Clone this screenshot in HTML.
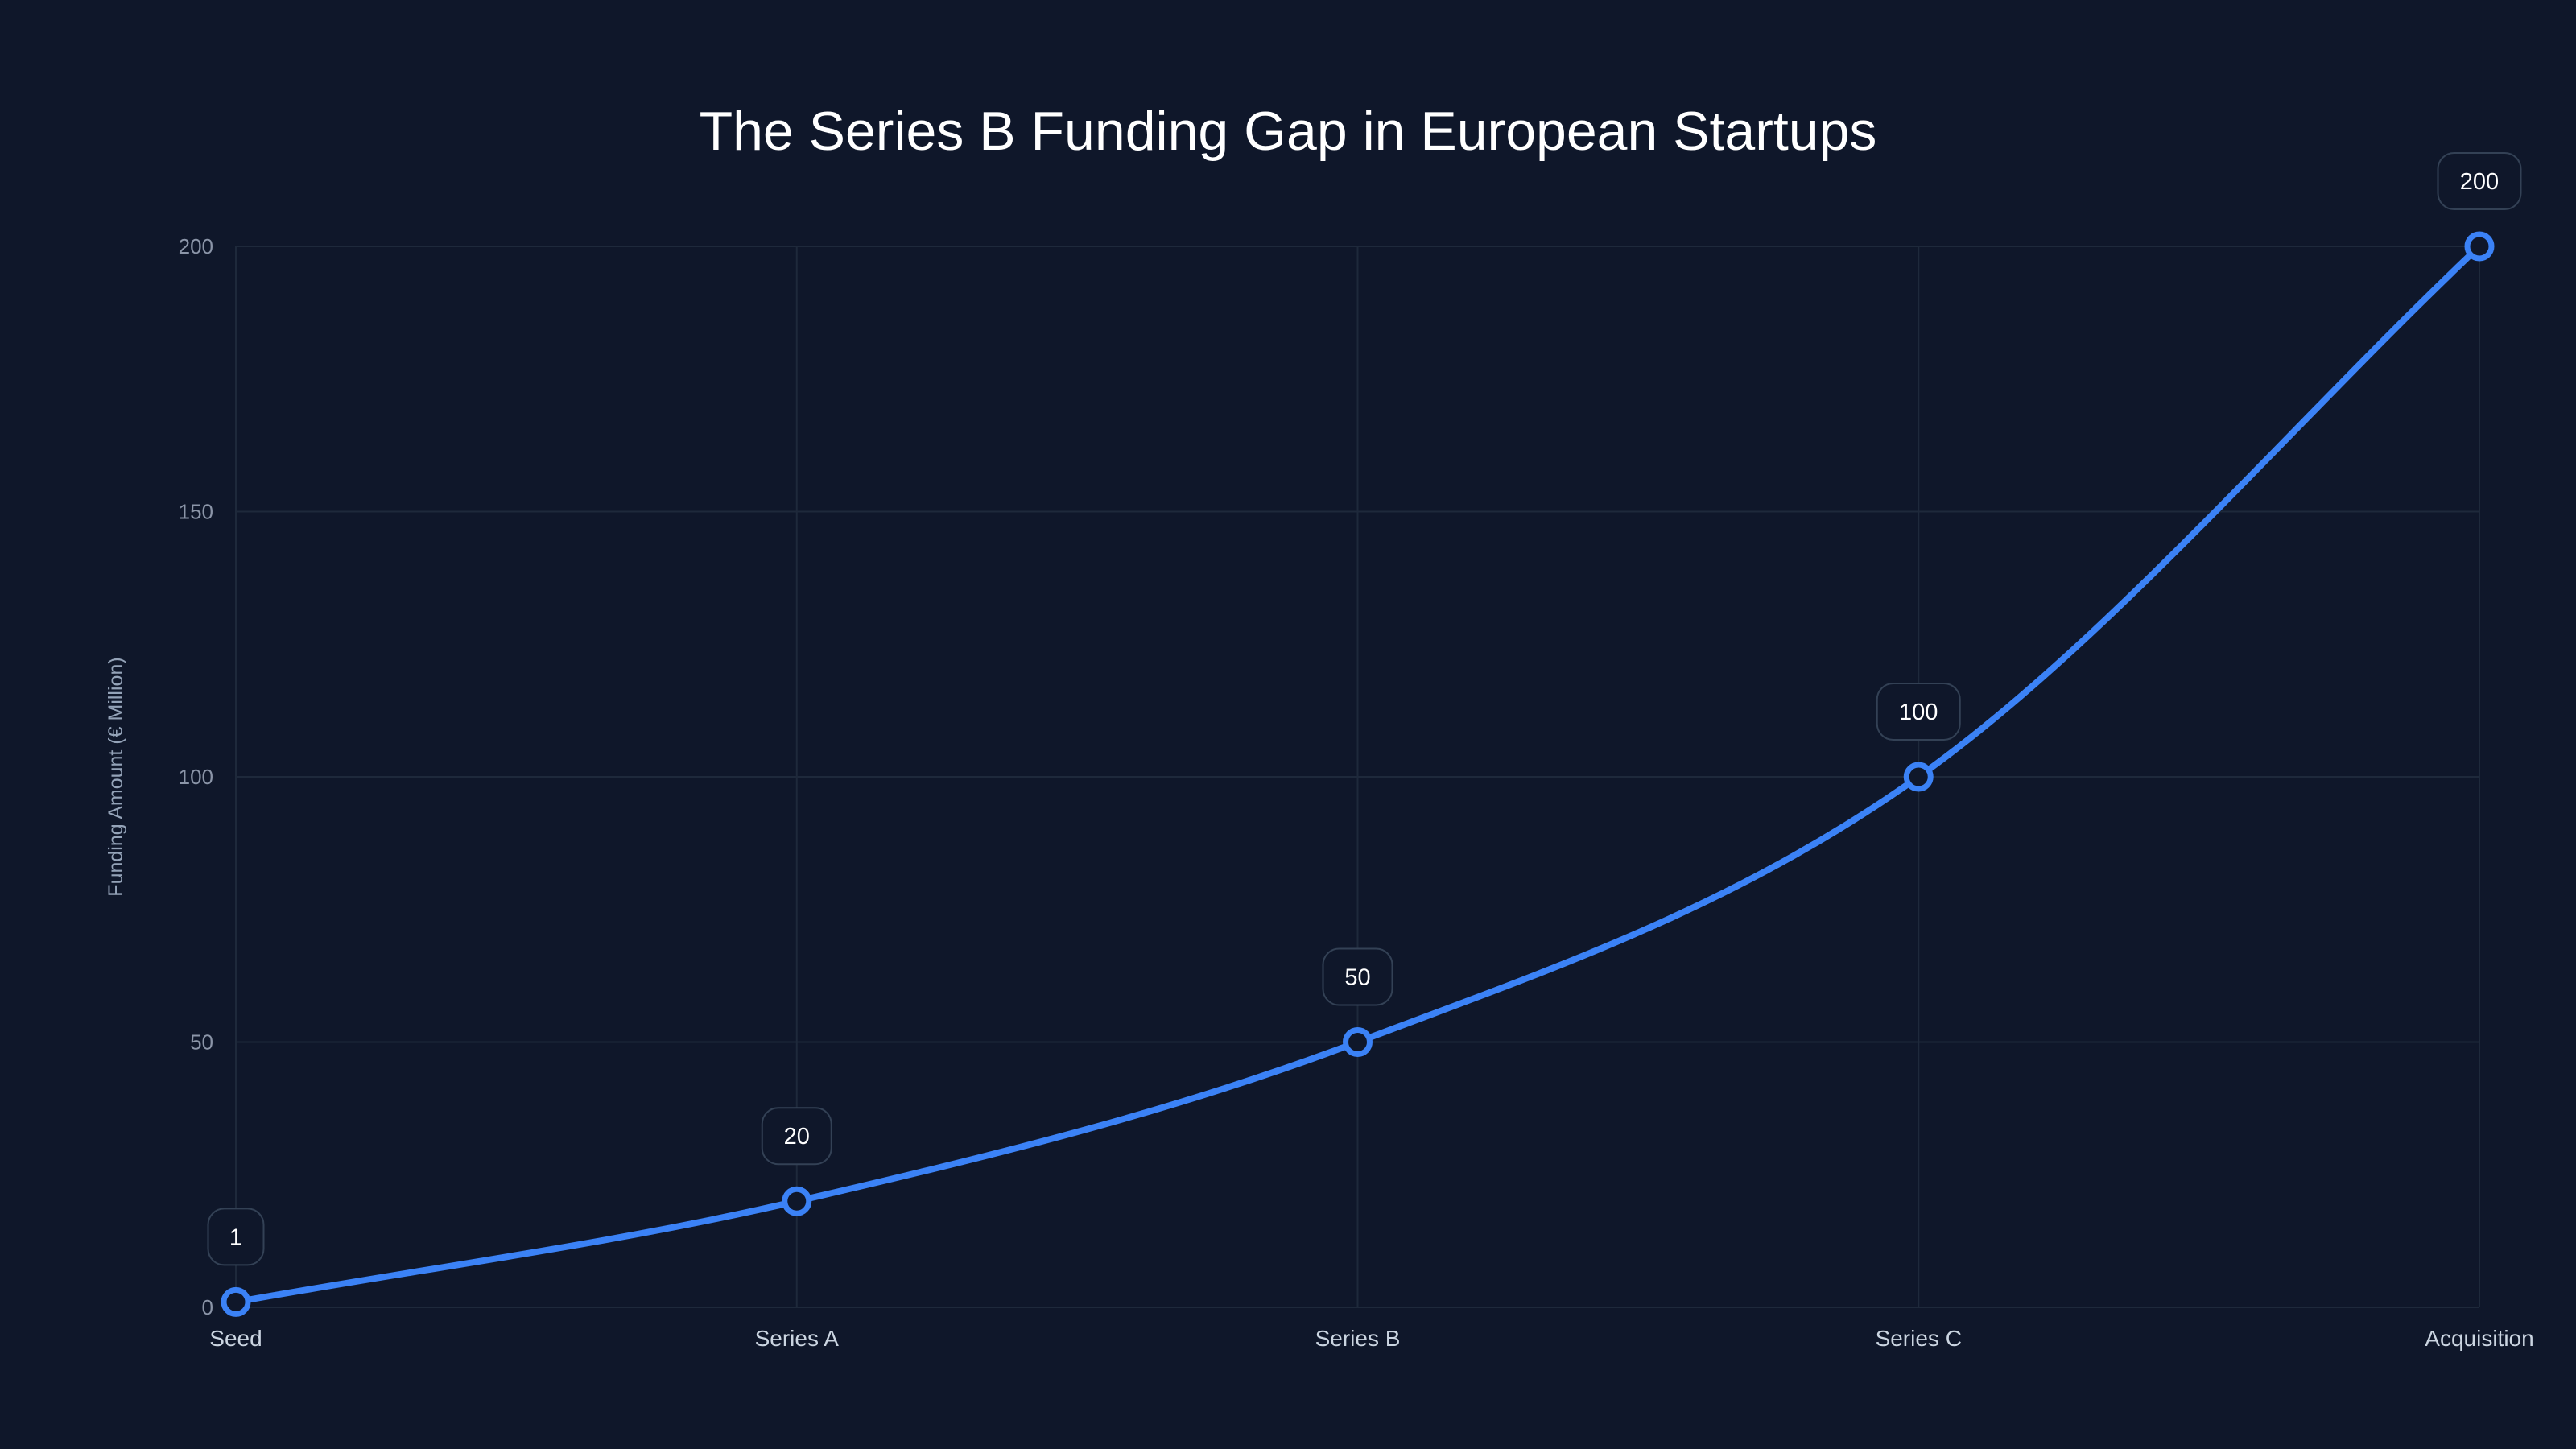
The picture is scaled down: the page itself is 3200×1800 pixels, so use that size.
<!DOCTYPE html>
<html><head><meta charset="utf-8"><style>
html,body{margin:0;padding:0;background:#0f172a;}
svg{display:block;font-family:"Liberation Sans",sans-serif;}
</style></head><body>
<svg id="chart" width="3200" height="1800" viewBox="0 0 3200 1800" xmlns="http://www.w3.org/2000/svg">
<rect width="3200" height="1800" fill="#0f172a"/>
<text x="1600" y="186" text-anchor="middle" font-size="68" fill="#ffffff">The Series B Funding Gap in European Startups</text>
<text transform="translate(152,965) rotate(-90)" text-anchor="middle" font-size="25" fill="#94a3b8">Funding Amount (€ Million)</text>
<g id="grid"></g><g id="ticks"></g><g id="series"></g><g id="labels"></g>
</svg>
<script>
const categories = ["Seed","Series A","Series B","Series C","Acquisition"];
const values = [1,20,50,100,200];
const yTicks = [0,50,100,150,200];
const NS="http://www.w3.org/2000/svg";
const L=293,R=3080,T=306,B=1624,yMax=200;
function xs(i){return L+(R-L)*i/(categories.length-1);}
function ys(v){return B-(B-T)*v/yMax;}
function mk(tag,attrs,parent){const e=document.createElementNS(NS,tag);for(const k in attrs)e.setAttribute(k,attrs[k]);parent.appendChild(e);return e;}
const grid=document.getElementById('grid'),ticks=document.getElementById('ticks'),series=document.getElementById('series'),labels=document.getElementById('labels');
yTicks.forEach(t=>{
  const ln=mk('line',{x1:L,x2:R,y1:ys(t),y2:ys(t),stroke:'#1e293b','stroke-width':2},grid);
  
  
  const tx=mk('text',{x:L-28,y:ys(t)+9,'text-anchor':'end','font-size':26,fill:'#8b95a8'},ticks);
  tx.textContent=t;
  
  
});
categories.forEach((c,i)=>{
  const ln=mk('line',{x1:xs(i),x2:xs(i),y1:T,y2:B,stroke:'#1e293b','stroke-width':2},grid);
  
  
  const tx=mk('text',{x:xs(i),y:B+48,'text-anchor':'middle','font-size':28,fill:'#cbd5e1'},ticks);
  tx.textContent=c;
  
  
});
const px=values.map((v,i)=>xs(i)),py=values.map(v=>ys(v));
const n=px.length,d=[],m=[];
for(let i=0;i<n-1;i++)d.push((py[i+1]-py[i])/(px[i+1]-px[i]));
m[0]=d[0];m[n-1]=d[n-2];
for(let i=1;i<n-1;i++){m[i]=d[i-1]*d[i]<=0?0:(d[i-1]+d[i])/2;}
let p=`M${px[0]},${py[0]}`;
for(let i=0;i<n-1;i++){const h=(px[i+1]-px[i])/3;p+=` C${px[i]+h},${py[i]+m[i]*h} ${px[i+1]-h},${py[i+1]-m[i+1]*h} ${px[i+1]},${py[i+1]}`;}
const path=mk('path',{d:p,fill:'none',stroke:'#3b82f6','stroke-width':8,'stroke-linecap':'round'},series);


values.forEach((v,i)=>{
  const c=mk('circle',{cx:xs(i),cy:ys(v),r:15,fill:'#0f172a',stroke:'#3b82f6','stroke-width':7},series);
  
  
  const s=String(v),w=Math.max(64,s.length*17+52);
  const g=mk('g',{},labels);
  
  
  mk('rect',{x:xs(i)-w/2,y:ys(v)-116,width:w,height:70,rx:20,fill:'#0f172a',stroke:'#334155','stroke-width':2},g);
  const t=mk('text',{x:xs(i),y:ys(v)-71,'text-anchor':'middle','font-size':29,fill:'#ffffff'},g);
  t.textContent=s;
});
</script>
</body></html>
